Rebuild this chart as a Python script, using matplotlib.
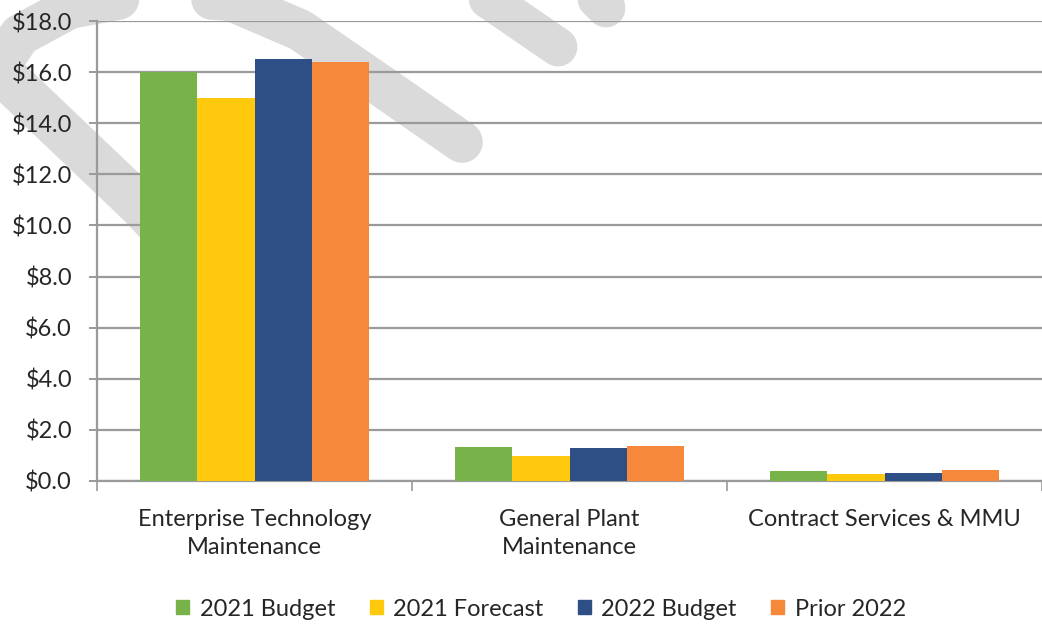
import matplotlib
matplotlib.use("Agg")
import matplotlib.pyplot as plt
from matplotlib.lines import Line2D
from matplotlib.patches import Patch
import numpy as np

categories = ["Enterprise Technology\nMaintenance", "General Plant\nMaintenance", "Contract Services & MMU"]
series_names = ["2021 Budget", "2021 Forecast", "2022 Budget", "Prior 2022"]
budget_2021 = [16.0, 1.34, 0.39]
forecast_2021 = [15.0, 0.98, 0.26]
budget_2022 = [16.5, 1.28, 0.31]
prior_2022 = [16.4, 1.38, 0.42]
y_ticks = [0, 2, 4, 6, 8, 10, 12, 14, 16, 18]

colors = ["#78b34a", "#ffc90e", "#2e4f86", "#f5883a"]
values = [budget_2021, forecast_2021, budget_2022, prior_2022]

plt.rcParams['font.family'] = ['Lato', 'DejaVu Sans']
W, H = 1042, 624
fig = plt.figure(figsize=(W / 100, H / 100), dpi=100)

# watermark strokes (decoration) in figure pixel coords
def px(xs, ys):
    return [x / W for x in xs], [1 - y / H for y in ys]

wm_color = "#dadada"
strokes = [
    ([-10, 20, 70, 140, 230, 300, 380, 462], [80, 35, 8, -5, 0, 30, 85, 142], 30),
    ([-10, 140, 230], [62, 205, 300], 32),
    ([475, 558], [-10, 47], 28),
    ([588, 606], [-10, 8], 28),
]
for xs, ys, lw in strokes:
    fx, fy = px(xs, ys)
    fig.add_artist(Line2D(fx, fy, transform=fig.transFigure, color=wm_color,
                          lw=lw, solid_capstyle='round', solid_joinstyle='round', zorder=0))

ax = fig.add_axes([97 / W, 1 - 481 / H, 1 - 97 / W, (481 - 21) / H])
ax.patch.set_alpha(0)
ax.set_zorder(1)

x = np.arange(len(categories))
w = 0.1825
for i, (vals, c, name) in enumerate(zip(values, colors, series_names)):
    ax.bar(x + (i - 1.5) * w, vals, width=w, color=c, label=name, zorder=3)

ax.set_xlim(-0.5, 2.5)
ax.set_ylim(0, 18)
ax.set_yticks(y_ticks)
ax.set_yticklabels([f"${v:.1f}" for v in y_ticks])
ax.yaxis.grid(True, color="#9a9a9a", lw=1.6, zorder=1)
ax.set_axisbelow(True)

ax.set_xticks(x)
ax.set_xticklabels(categories, linespacing=1.4)
ax.set_xticks([-0.5, 0.5, 1.5, 2.5], minor=True)
ax.tick_params(axis='x', which='major', length=0, pad=20, labelsize=17, labelcolor="#262626")
ax.tick_params(axis='x', which='minor', length=7, width=1.2, color="#9a9a9a", direction='out')
ax.tick_params(axis='y', length=6, width=1.4, color="#9a9a9a", pad=12, labelsize=17, labelcolor="#262626")

for s in ['top', 'right']:
    ax.spines[s].set_visible(False)
for s in ['left', 'bottom']:
    ax.spines[s].set_color("#9a9a9a")
    ax.spines[s].set_linewidth(1.6)

handles = [Patch(color=c, label=n) for c, n in zip(colors, series_names)]
fig.legend(handles=handles, loc='center', bbox_to_anchor=(541 / W, 1 - 609 / H), ncol=4,
           frameon=False, fontsize=17, handlelength=0.55, handleheight=0.55,
           handletextpad=0.45, columnspacing=1.45, labelcolor="#262626")

fig.savefig("out.png", dpi=100)
